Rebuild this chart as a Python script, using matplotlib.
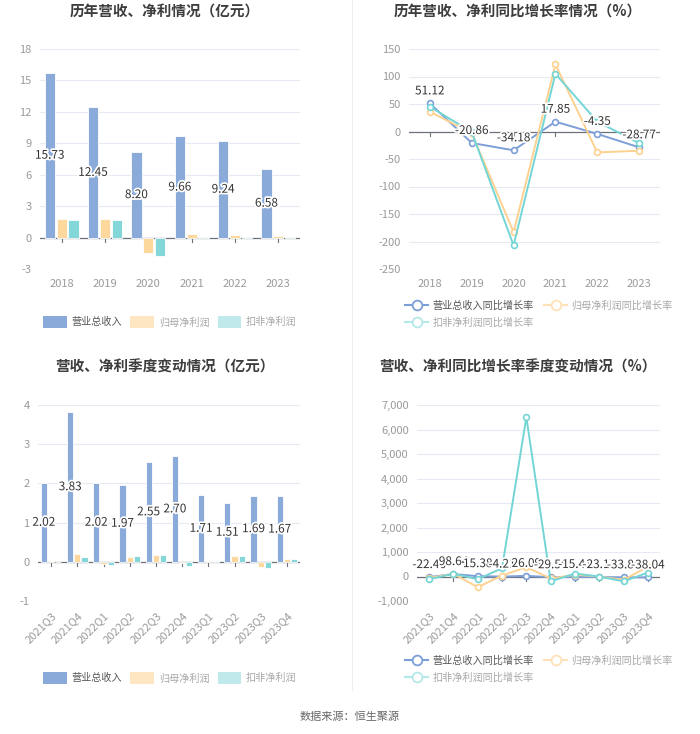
import matplotlib
matplotlib.use("Agg")
import matplotlib.pyplot as plt
import matplotlib.patheffects as pe
import numpy as np
from matplotlib.lines import Line2D
from matplotlib.patches import Rectangle
from matplotlib.ticker import FuncFormatter

plt.rcParams["font.family"] = ["Noto Sans CJK SC", "DejaVu Sans"]
plt.rcParams["axes.unicode_minus"] = False

# ---- data ----
years = ["2018", "2019", "2020", "2021", "2022", "2023"]
revenue = [15.73, 12.45, 8.20, 9.66, 9.24, 6.58]
net_profit = [1.80, 1.80, -1.50, 0.35, 0.20, 0.12]
deducted_profit = [1.70, 1.70, -1.80, 0.10, 0.10, 0.08]

revenue_growth = [51.12, -20.86, -34.18, 17.85, -4.35, -28.77]
net_growth = [36.0, -3.0, -183.0, 122.0, -38.0, -35.0]
deducted_growth = [45.0, -1.0, -207.0, 105.0, 18.0, -21.0]

quarters = ["2021Q3", "2021Q4", "2022Q1", "2022Q2", "2022Q3",
            "2022Q4", "2023Q1", "2023Q2", "2023Q3", "2023Q4"]
q_revenue = [2.02, 3.83, 2.02, 1.97, 2.55, 2.70, 1.71, 1.51, 1.69, 1.67]
q_net_profit = [0.03, 0.19, -0.05, 0.13, 0.17, -0.02, 0.03, 0.15, -0.12, 0.08]
q_deducted_profit = [0.005, 0.12, -0.08, 0.14, 0.18, -0.10, 0.02, 0.16, -0.15, 0.07]

q_revenue_growth = [-22.46, 98.64, 15.38, -4.21, 26.09, -29.56, -15.41, -23.17, -33.85, -38.04]
q_net_growth = [-60.0, 110.0, -436.0, 40.0, 380.0, -80.0, 70.0, 0.0, -140.0, 400.0]
q_deducted_growth = [-110.0, 110.0, -110.0, 340.0, 6500.0, -200.0, 120.0, 0.0, -200.0, 160.0]

# ---- style ----
BLUE = "#8aabda"
ORANGE = "#fdd89c"
CYAN = "#84d7d8"
BLUE_LINE = "#7d9fd8"
ORANGE_LINE = "#fdd190"
CYAN_LINE = "#74d5d5"
GRID = "#e6ebf3"
AXIS = "#6e7079"
TICK_TEXT = "#9a9a9a"
TITLE = "#3d3d3d"
W, H = 700, 734


def fig_rect(x0, y0, x1, y1):
    return [x0 / W, 1 - y1 / H, (x1 - x0) / W, (y1 - y0) / H]


def style_axis(ax, n, ylim, yticks, fmt=None):
    ax.set_xlim(-0.5, n - 0.5)
    ax.set_ylim(*ylim)
    ax.set_yticks(yticks)
    for s in ax.spines.values():
        s.set_visible(False)
    for y in yticks:
        if y != 0:
            ax.axhline(y, color=GRID, linewidth=0.8, zorder=0)
    ax.axhline(0, color=AXIS, linewidth=0.9, zorder=1)
    ax.tick_params(axis="y", length=0, labelsize=8, labelcolor=TICK_TEXT, pad=6)
    ax.tick_params(axis="x", length=0, labelsize=8, labelcolor=TICK_TEXT, pad=7)
    if fmt is not None:
        ax.yaxis.set_major_formatter(fmt)
    # small category ticks hanging below the zero line
    span = ylim[1] - ylim[0]
    for i in range(n):
        ax.plot([i, i], [0, -span * 0.022], color=AXIS, linewidth=0.8, zorder=1)


def bar_panel(ax, cats, a, b, c, ylim, yticks, rotate=False):
    x = np.arange(len(cats))
    w = 0.235
    off = 0.275
    ax.bar(x - off, a, w, color=BLUE, edgecolor="white", linewidth=0.6, zorder=2)
    ax.bar(x, b, w, color=ORANGE, edgecolor="white", linewidth=0.6, zorder=2)
    ax.bar(x + off, c, w, color=CYAN, edgecolor="white", linewidth=0.6, zorder=2)
    style_axis(ax, len(cats), ylim, yticks)
    ax.set_xticks(x)
    if rotate:
        ax.set_xticklabels(cats, rotation=45, ha="right", rotation_mode="anchor")
    else:
        ax.set_xticklabels(cats)
    for xi, v in zip(x, a):
        ax.text(xi - off, v / 2, f"{v:.2f}", ha="center", va="center", fontsize=8.5,
                color="#333333", zorder=4,
                path_effects=[pe.withStroke(linewidth=2.5, foreground="white")])


def line_panel(ax, cats, a, b, c, ylim, yticks, rotate=False, fmt=None):
    x = np.arange(len(cats))
    kw = dict(linewidth=1.4, marker="o", markersize=4.2, markerfacecolor="white",
              markeredgewidth=1.2, zorder=3)
    ax.plot(x, a, color=BLUE_LINE, **kw)
    ax.plot(x, b, color=ORANGE_LINE, **kw)
    ax.plot(x, c, color=CYAN_LINE, **kw)
    style_axis(ax, len(cats), ylim, yticks, fmt)
    ax.set_xticks(x)
    if rotate:
        ax.set_xticklabels(cats, rotation=45, ha="right", rotation_mode="anchor")
    else:
        ax.set_xticklabels(cats)
    for xi, v in zip(x, a):
        ax.annotate(f"{v:.2f}", (xi, v), xytext=(0, 9), textcoords="offset points",
                    ha="center", va="center", fontsize=8.5, color="#333333", zorder=4,
                    path_effects=[pe.withStroke(linewidth=2.5, foreground="white")])


fig = plt.figure(figsize=(7.0, 7.34), dpi=100)
fig.patch.set_facecolor("white")

ax1 = fig.add_axes(fig_rect(40, 49, 300, 269))
ax2 = fig.add_axes(fig_rect(409, 49, 660, 269))
ax3 = fig.add_axes(fig_rect(38, 405, 300, 601))
ax4 = fig.add_axes(fig_rect(417, 405, 660, 601))

bar_panel(ax1, years, revenue, net_profit, deducted_profit, (-3, 18),
          [-3, 0, 3, 6, 9, 12, 15, 18])
line_panel(ax2, years, revenue_growth, net_growth, deducted_growth, (-250, 150),
           [-250, -200, -150, -100, -50, 0, 50, 100, 150])
bar_panel(ax3, quarters, q_revenue, q_net_profit, q_deducted_profit, (-1, 4),
          [-1, 0, 1, 2, 3, 4], rotate=True)
line_panel(ax4, quarters, q_revenue_growth, q_net_growth, q_deducted_growth, (-1000, 7000),
           list(range(-1000, 7001, 1000)), rotate=True,
           fmt=FuncFormatter(lambda v, p: f"{int(v):,}"))

# titles
for xc, yc, t in [(165, 12, "历年营收、净利情况（亿元）"),
                  (518, 12, "历年营收、净利同比增长率情况（%）"),
                  (165, 367, "营收、净利季度变动情况（亿元）"),
                  (518, 367, "营收、净利同比增长率季度变动情况（%）")]:
    fig.text(xc / W, 1 - yc / H, t, ha="center", va="center", fontsize=10.5,
             fontweight="bold", color=TITLE)

# legends
bar_handles = [Rectangle((0, 0), 1, 1, facecolor=BLUE, edgecolor="none"),
               Rectangle((0, 0), 1, 1, facecolor="#fee6c2", edgecolor="none"),
               Rectangle((0, 0), 1, 1, facecolor="#bfe9ea", edgecolor="none")]
bar_labels = ["营业总收入", "归母净利润", "扣非净利润"]

line_handles = [Line2D([], [], color=BLUE_LINE, marker="o", markerfacecolor="white",
                       markersize=7, linewidth=1.5, markeredgewidth=1.3),
                Line2D([], [], color="#fee1b8", marker="o", markerfacecolor="white",
                       markersize=7, linewidth=1.5, markeredgewidth=1.3),
                Line2D([], [], color="#b5e8e8", marker="o", markerfacecolor="white",
                       markersize=7, linewidth=1.5, markeredgewidth=1.3)]
line_labels = ["营业总收入同比增长率", "归母净利润同比增长率", "扣非净利润同比增长率"]


def add_bar_legend(yc):
    leg = fig.legend(bar_handles, bar_labels, loc="center", ncol=3,
                     bbox_to_anchor=(170 / W, 1 - yc / H), frameon=False, fontsize=7.3,
                     handlelength=2.3, handleheight=1.3, columnspacing=0.8,
                     handletextpad=0.5)
    for i, t in enumerate(leg.get_texts()):
        t.set_color("#555555" if i == 0 else "#a8a8a8")


def add_line_legend(yc):
    order = [0, 2, 1]
    leg = fig.legend([line_handles[i] for i in order], [line_labels[i] for i in order],
                     loc="upper left", ncol=2, bbox_to_anchor=(398 / W, 1 - yc / H),
                     frameon=False, fontsize=7.3, handlelength=2.3, columnspacing=1.0,
                     handletextpad=0.4, labelspacing=0.7, borderpad=0.2)
    for t in leg.get_texts():
        t.set_color("#555555" if t.get_text() == line_labels[0] else "#a8a8a8")


add_bar_legend(322)
add_bar_legend(678)
add_line_legend(293)
add_line_legend(648)

# faint vertical divider
fig.add_artist(Line2D([352 / W, 352 / W], [1 - 690 / H, 1.0], color="#eeeeee", linewidth=0.8))

fig.text(350 / W, 1 - 717 / H, "数据来源：恒生聚源", ha="center", va="center",
         fontsize=8, color="#666666")

fig.savefig("out.png", dpi=100)
